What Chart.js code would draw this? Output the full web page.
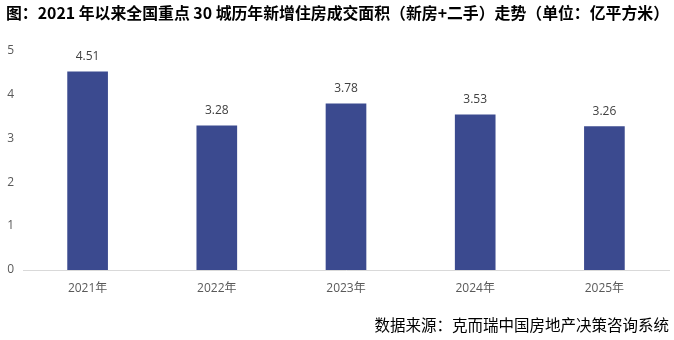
<!DOCTYPE html>
<html>
<head>
<meta charset="utf-8">
<script src="https://cdn.jsdelivr.net/npm/chart.js@4"></script>
<style>
    html, body { margin: 0; padding: 0; background: #fff; }
    #wrap { width: 674px; height: 340px; }
</style>
</head>
<body>
<div id="wrap"><canvas id="areaChart" width="674" height="340"></canvas></div>
<script>
const years = ["2021年", "2022年", "2023年", "2024年", "2025年"];
const area = [4.51, 3.28, 3.78, 3.53, 3.26];
const yTicks = [0, 1, 2, 3, 4, 5];

const titleText = "图：2021 年以来全国重点 30 城历年新增住房成交面积（新房+二手）走势（单位：亿平方米）";
const sourceText = "数据来源：克而瑞中国房地产决策咨询系统";

// value labels over the bars
const barLabels = {
    id: "barLabels",
    afterDatasetsDraw(chart) {
        const ctx = chart.ctx;
        const meta = chart.getDatasetMeta(0);
        ctx.save();
        ctx.font = "12px 'Open Sans', 'Noto Sans', sans-serif";
        ctx.fillStyle = "#404040";
        ctx.textAlign = "center";
        ctx.textBaseline = "middle";
        meta.data.forEach((bar, i) => {
            ctx.fillText(area[i].toFixed(2), bar.x, bar.y - 15);
        });
        ctx.restore();
    }
};

new Chart(document.getElementById("areaChart"), {
    type: "bar",
    data: {
        labels: years,
        datasets: [{
            data: area,
            backgroundColor: "#3B4A8F",
            barThickness: 40
        }]
    },
    options: {
        responsive: false,
        animation: false,
        devicePixelRatio: 1,
        layout: { padding: { left: 6, right: 5, top: 0, bottom: 0 } },
        plugins: {
            legend: { display: false },
            tooltip: { enabled: false },
            title: {
                display: true,
                text: titleText,
                align: "start",
                color: "#000",
                font: { family: "'Noto Sans CJK SC', sans-serif", size: 16, weight: "bold", lineHeight: 1.2 },
                padding: { top: 3, bottom: 28 }
            },
            subtitle: {
                display: true,
                position: "bottom",
                text: sourceText,
                align: "end",
                color: "#000",
                font: { family: "'Noto Sans CJK SC', sans-serif", size: 15.5, lineHeight: 1.2 },
                padding: { top: 9, bottom: 6 }
            }
        },
        scales: {
            x: {
                grid: { display: false, drawTicks: false },
                border: { color: "#D9D9D9", width: 1 },
                ticks: {
                    color: "#595959",
                    padding: 11,
                    font: { family: "'Open Sans', 'Noto Sans CJK SC', sans-serif", size: 12 }
                }
            },
            y: {
                min: 0,
                max: 5,
                afterFit(scale) { scale.width = 17; },
                afterBuildTicks(scale) { scale.ticks = yTicks.map(v => ({ value: v })); },
                grid: { display: false, drawTicks: false },
                border: { display: false },
                ticks: {
                    color: "#595959",
                    padding: 9,
                    font: { family: "'Open Sans', sans-serif", size: 12 }
                }
            }
        }
    },
    plugins: [barLabels]
});
</script>
</body>
</html>
